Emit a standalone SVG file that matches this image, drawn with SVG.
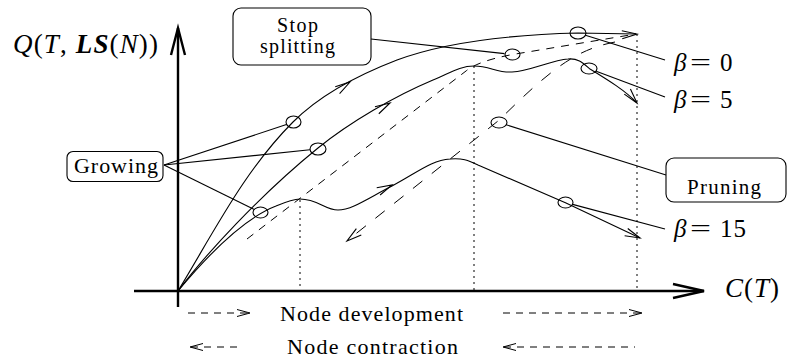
<svg xmlns="http://www.w3.org/2000/svg" width="787" height="360" viewBox="0 0 787 360">
  <style>
    .ln{fill:none;stroke:#000;stroke-width:1.1}
    .ax{fill:none;stroke:#000;stroke-width:2.4}
    .d1{fill:none;stroke:#000;stroke-width:1;stroke-dasharray:8 7}
    .d2{fill:none;stroke:#000;stroke-width:1;stroke-dasharray:12 12}
    .dl{fill:none;stroke:#000;stroke-width:1;stroke-dasharray:7 6}
    .dot{fill:none;stroke:#000;stroke-width:1;stroke-dasharray:2 4}
    .box{fill:#fff;stroke:#000;stroke-width:1.1}
  </style>
  <defs>
    <path id="ah" d="M-15,-4 L0,0 L-15,4" fill="none" stroke="#000" stroke-width="1.1"/>
    <path id="ahs" d="M-13,-3.5 L0,0 L-13,3.5" fill="none" stroke="#000" stroke-width="1"/>
  </defs>
  <rect width="787" height="360" fill="#fff"/>

  <!-- axes -->
  <g id="axes">
    <path class="ax" d="M178,307 V28"/>
    <path class="ax" d="M171,55 L178,28 L185,55"/>
    <path class="ax" d="M134,291 H704"/>
    <path class="ax" d="M673,284 L704,291 L673,298"/>
    <text font-family="Liberation Serif" x="13" y="53" font-size="27" textLength="145" lengthAdjust="spacing"><tspan font-style="italic">Q</tspan>(<tspan font-style="italic">T</tspan>, <tspan font-style="italic" font-weight="bold">LS</tspan>(<tspan font-style="italic">N</tspan>))</text>
    <text font-family="Liberation Serif" x="725" y="297" font-size="27" textLength="54" lengthAdjust="spacing"><tspan font-style="italic">C</tspan>(<tspan font-style="italic">T</tspan>)</text>
  </g>

  <!-- vertical guide lines -->
  <g id="guides">
    <path class="dot" d="M300,200 V291"/>
    <path class="dot" d="M474,66 V291"/>
    <path class="dot" d="M637,34 V291"/>
  </g>

  <!-- quality curves and development / contraction paths -->
  <g id="connectors">
    <!-- beta = 0 -->
    <path class="ln" d="M178,291 C215,230 245,170 293,122 C315,100 345,80 397,60 C440,44 500,35 578,33 L636,34"/>
    <use href="#ah" transform="translate(350,82) rotate(-33)"/>
    <!-- beta = 5 -->
    <path class="ln" d="M178,291 C205,255 260,195 318,148 C350,122 395,96 433,80 C450,73 460,66 474,66 C490,66 497,73 512,72 C530,71 552,60 568,59 C578,58 583,63 590,69 C608,80 626,91 637,103"/>
    <use href="#ah" transform="translate(390,103) rotate(-29)"/>
    <use href="#ah" transform="translate(637,103) rotate(50)"/>
    <!-- beta = 15 -->
    <path class="ln" d="M178,291 C212,250 245,218 276,206 C288,201 294,199 300,199 C318,199 325,210 338,210 C352,210 370,197 392,186 C418,172 432,160 450,159 C462,158 468,160 478,165 L566,203 L640,238"/>
    <use href="#ah" transform="translate(392,185) rotate(-25)"/>
    <use href="#ah" transform="translate(640,238) rotate(23)"/>
    <!-- development path -->
    <path class="d1" d="M247,239 L466,71 Q478,61 512.5,54.5 L636,34"/>
    <use href="#ah" transform="translate(637,34) rotate(-3)"/>
    <!-- contraction path -->
    <path class="d2" d="M615,42 C595,46 580,52 560,66 C535,84 515,105 498,121 L348,240"/>
    <use href="#ah" transform="translate(347,241) rotate(142)"/>

    <!-- stage points -->
    <ellipse class="ln" cx="293.5" cy="122" rx="7.5" ry="6"/>
    <ellipse class="ln" cx="318" cy="149" rx="8" ry="6"/>
    <ellipse class="ln" cx="260.5" cy="212.5" rx="7.5" ry="5.5"/>
    <ellipse class="ln" cx="512.5" cy="54.5" rx="7.5" ry="5.5"/>
    <ellipse class="ln" cx="578" cy="33" rx="8" ry="6"/>
    <ellipse class="ln" cx="589" cy="68.5" rx="8" ry="5.5"/>
    <ellipse class="ln" cx="565.5" cy="202.5" rx="7.5" ry="5.5"/>
    <ellipse class="ln" cx="499" cy="122.5" rx="8" ry="5.5"/>

    <!-- leader lines -->
    <path class="ln" d="M164,165 L286.4,124.5"/>
    <path class="ln" d="M164,165 L310,149.8"/>
    <path class="ln" d="M164,165 L254.3,209.4"/>
    <path class="ln" d="M371,39 L504.5,53.6"/>
    <path class="ln" d="M585.4,35.3 L665,60"/>
    <path class="ln" d="M596.2,71.2 L665,97"/>
    <path class="ln" d="M572.6,204.4 L665,229"/>
    <path class="ln" d="M506.3,124.8 L666,175"/>
  </g>

  <!-- curve labels -->
  <g id="beta0">
    <text font-family="Liberation Serif" font-size="25" font-style="italic" x="674" y="71">β</text>
    <text font-family="Liberation Serif" font-size="25" x="690" y="71" textLength="21" lengthAdjust="spacingAndGlyphs">=</text>
    <text font-family="Liberation Serif" font-size="25" x="720" y="71">0</text>
  </g>
  <g id="beta5">
    <text font-family="Liberation Serif" font-size="25" font-style="italic" x="674" y="108">β</text>
    <text font-family="Liberation Serif" font-size="25" x="690" y="108" textLength="21" lengthAdjust="spacingAndGlyphs">=</text>
    <text font-family="Liberation Serif" font-size="25" x="720" y="108">5</text>
  </g>
  <g id="beta15">
    <text font-family="Liberation Serif" font-size="25" font-style="italic" x="674" y="237">β</text>
    <text font-family="Liberation Serif" font-size="25" x="690" y="237" textLength="21" lengthAdjust="spacingAndGlyphs">=</text>
    <text font-family="Liberation Serif" font-size="25" x="720" y="237" textLength="26" lengthAdjust="spacing">15</text>
  </g>

  <!-- phase nodes -->
  <g id="stop-splitting">
    <rect class="box" x="233" y="8" width="138" height="57" rx="8"/>
    <text font-family="Liberation Serif" x="277" y="32" font-size="20" textLength="41" lengthAdjust="spacing">Stop</text>
    <text font-family="Liberation Serif" x="260" y="53" font-size="20" textLength="75" lengthAdjust="spacing">splitting</text>
  </g>
  <g id="growing">
    <rect class="box" x="67" y="151.5" width="96" height="30" rx="6"/>
    <text font-family="Liberation Serif" x="74" y="173" font-size="22" textLength="84" lengthAdjust="spacing">Growing</text>
  </g>
  <g id="pruning">
    <rect class="box" x="666" y="158" width="120" height="44" rx="8"/>
    <text font-family="Liberation Serif" x="687" y="194" font-size="21" textLength="74" lengthAdjust="spacing">Pruning</text>
  </g>

  <!-- legend -->
  <g id="legend">
    <path class="dl" d="M188,313 H249"/>
    <path class="dl" d="M503,313 H641"/>
    <path class="dl" d="M191,347 H243"/>
    <path class="dl" d="M504,347 H635"/>
    <use href="#ahs" transform="translate(250,313)"/>
    <use href="#ahs" transform="translate(642,313)"/>
    <use href="#ahs" transform="translate(190,347) rotate(180)"/>
    <use href="#ahs" transform="translate(503,347) rotate(180)"/>
    <text font-family="Liberation Serif" x="280" y="321" font-size="22" textLength="183" lengthAdjust="spacing">Node development</text>
    <text font-family="Liberation Serif" x="287" y="354" font-size="22" textLength="171" lengthAdjust="spacing">Node contraction</text>
  </g>
</svg>
